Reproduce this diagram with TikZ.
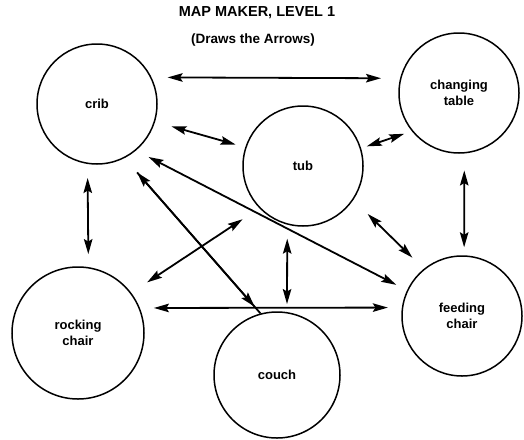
\documentclass[tikz,border=0pt]{standalone}
\usepackage{fontspec}
\setmainfont{Liberation Sans}
\usetikzlibrary{arrows.meta}

\tikzset{
    place/.style={circle,draw,line width=1.5pt,minimum size=120pt,inner sep=0pt,
        font=\fontsize{13}{16.5}\selectfont\bfseries,align=center},
    wire/.style={line width=1.8pt},
    link/.style={wire,{Stealth[length=15pt,width=8.5pt,inset=2.5pt]}-{Stealth[length=15pt,width=8.5pt,inset=2.5pt]}},
}

\begin{document}
\begin{tikzpicture}[x=1pt,y=-1pt]
    \useasboundingbox (0,0) rectangle (524,439);
    \node[font=\fontsize{14.5}{18}\selectfont\bfseries] (title) at (257,13) {MAP MAKER, LEVEL 1};
    \node[font=\fontsize{13.5}{16}\selectfont\bfseries] (subtitle) at (253,40) {(Draws the Arrows)};
    % rooms
    \node[place] (crib) at (97,104) {crib};
    \node[place] (tub) at (303,166) {tub};
    \node[place] (changing) at (459,93) {changing\\table};
    \node[place,minimum size=132pt] (rocking) at (78,333) {rocking\\chair};
    \node[place,minimum size=126pt] (couch) at (277,375) {couch};
    \node[place] (feeding) at (462,316) {feeding\\chair};
    % arrows
    \draw[link,shorten <=16pt,shorten >=19pt] (crib.26) -- (changing.166);
    \draw[link,shorten <=17pt,shorten >=10pt] (crib.-17) -- (tub.162);
    \draw[link,shorten <=6pt,shorten >=8pt] (tub.17) -- (changing.219);
    \draw[link,shorten <=14pt,shorten >=12pt] (crib.-50) -- (feeding.155);
    \draw[wire,shorten <=19pt] (crib.-63) -- (couch.105);
    \draw[link,shorten <=19pt,shorten >=9pt] (crib.-63) -- (couch.105);
    \draw[link,shorten <=14pt,shorten >=13pt] (crib.-99) -- (rocking.81);
    \draw[link,shorten <=20pt,shorten >=19pt] (tub.-136) -- (rocking.37);
    \draw[link,shorten <=14pt,shorten >=8pt] (tub.-105) -- (couch.81);
    \draw[link,shorten <=14pt,shorten >=14pt] (rocking.22) -- (feeding.172);
    \draw[link,shorten <=20pt,shorten >=16pt] (tub.-34) -- (feeding.129);
    \draw[link,shorten <=17pt,shorten >=8pt] (changing.-85) -- (feeding.88);
\end{tikzpicture}
\end{document}
